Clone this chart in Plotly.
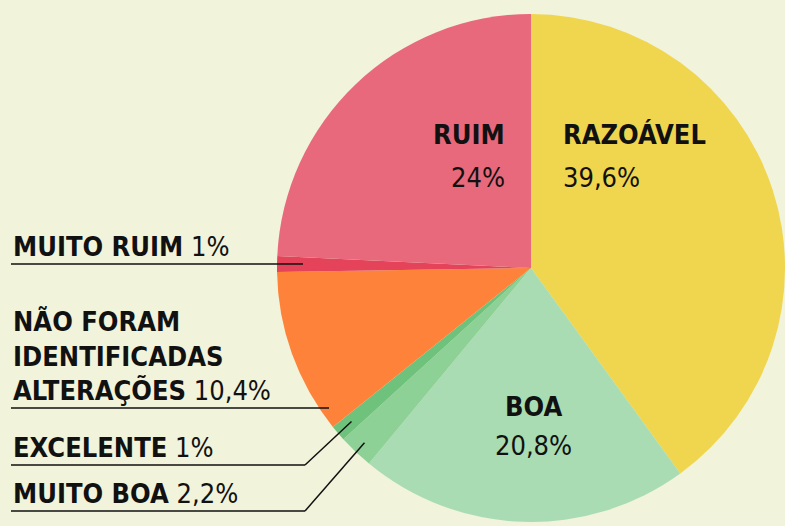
import math
import plotly.graph_objects as go

# ---- data ----
labels = ["RAZOÁVEL", "BOA", "MUITO BOA", "EXCELENTE",
          "NÃO FORAM IDENTIFICADAS ALTERAÇÕES", "MUITO RUIM", "RUIM"]
values = [39.6, 20.8, 2.2, 1.0, 10.4, 1.0, 24.0]
colors = ["#f0d54e", "#a9dcb2", "#8dd197", "#6fc27c", "#fe823a", "#e4435a", "#e8697b"]

W, H = 785, 526
BG = "#f1f3da"
FONT = "DejaVu Sans Condensed, sans-serif"
FS = 27

# pie geometry (pixels)
CX, CY, R = 531, 268, 254


def fmt(v):
    return f"{v:g}".replace(".", ",") + "%"


def px(x):
    return x / W


def py(y):
    return 1 - y / H


fig = go.Figure(go.Pie(
    labels=labels, values=values, sort=False, direction="clockwise", rotation=0,
    marker=dict(colors=colors, line=dict(width=0)),
    textinfo="none", hoverinfo="label+value", showlegend=False,
    domain=dict(x=[px(CX - R), px(CX + R)], y=[py(CY + R), py(CY - R)]),
))

annotations = []
shapes = []


def ann(x, y, text, xanchor, bold):
    annotations.append(dict(
        x=px(x), y=py(y), xref="paper", yref="paper", showarrow=False,
        text=f"<b>{text}</b>" if bold else text, xanchor=xanchor, yanchor="middle",
        font=dict(family=FONT, size=FS, color="#111111")))


def line(x0, y0, x1, y1):
    shapes.append(dict(type="line", xref="paper", yref="paper",
                       x0=px(x0), y0=py(y0), x1=px(x1), y1=py(y1),
                       line=dict(color="#111111", width=1.5)))


total = sum(values)
cum = {}
acc = 0
for lab, v in zip(labels, values):
    cum[lab] = (acc + v / 2) / total * 360
    acc += v


def tip(lab, f):
    th = math.radians(cum[lab])
    return CX + f * R * math.sin(th), CY - f * R * math.cos(th)


val = dict(zip(labels, values))

# inside labels
ann(507, 134, labels[6], "right", True)
ann(507, 177, fmt(val["RUIM"]), "right", False)
ann(561, 134, labels[0], "left", True)
ann(561, 177, fmt(val["RAZOÁVEL"]), "left", False)
ann(533, 406, labels[1], "center", True)
ann(533, 445, fmt(val["BOA"]), "center", False)

# outside labels
ann(11, 246, f"<b>{labels[5]}</b> {fmt(val['MUITO RUIM'])}", "left", False)
line(11, 264, 303, 264)

nf = labels[4].split(" ")
ann(11, 321, " ".join(nf[:2]), "left", True)
ann(11, 356, nf[2], "left", True)
ann(11, 390, f"<b>{nf[3]}</b> {fmt(val[labels[4]])}", "left", False)
line(11, 408, 329, 408)

ann(11, 447, f"<b>{labels[3]}</b> {fmt(val['EXCELENTE'])}", "left", False)
tx, ty = tip("EXCELENTE", 0.93)
line(11, 465, 305, 465)
line(305, 465, tx, ty)

ann(11, 493, f"<b>{labels[2]}</b> {fmt(val['MUITO BOA'])}", "left", False)
tx, ty = tip("MUITO BOA", 0.95)
line(11, 511, 305, 511)
line(305, 511, tx, ty)

fig.update_layout(
    width=W, height=H, margin=dict(l=0, r=0, t=0, b=0),
    paper_bgcolor=BG, plot_bgcolor=BG,
    annotations=annotations, shapes=shapes,
)

fig.write_html("out.html", config={"displayModeBar": False},
               post_script="document.body.style.margin='0';document.body.style.overflow='hidden';")
